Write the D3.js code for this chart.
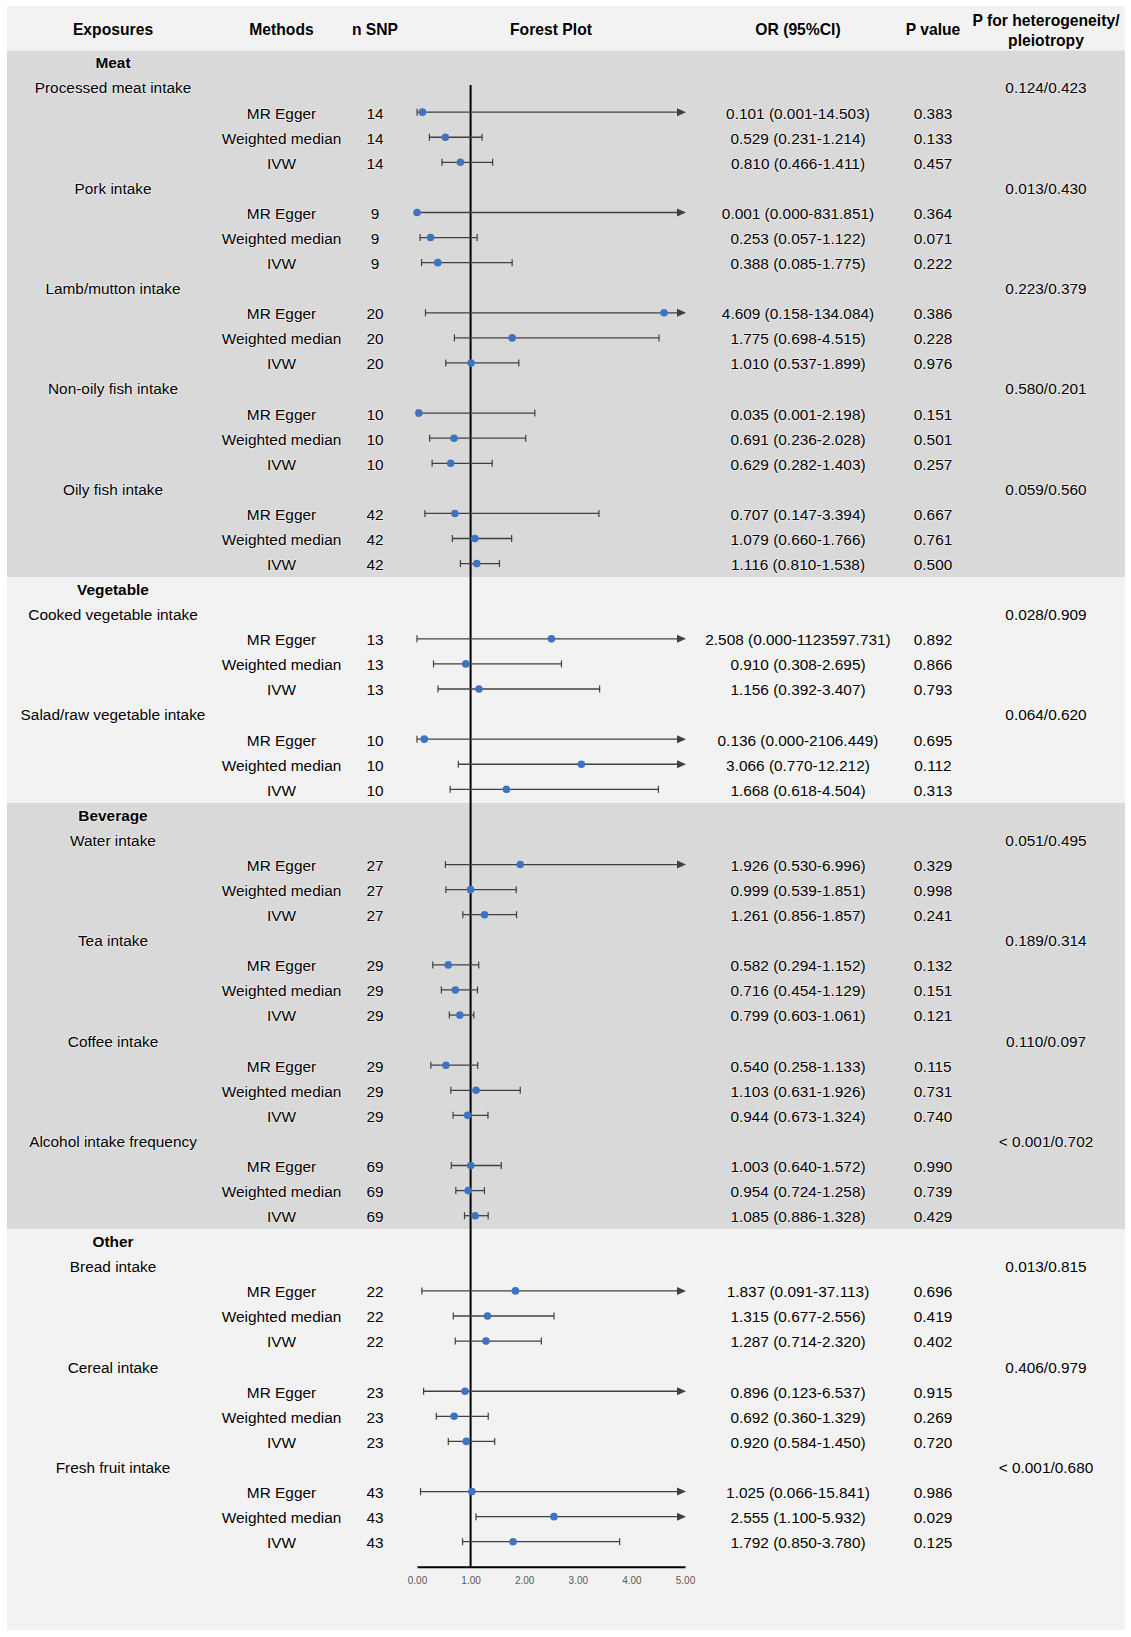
<!DOCTYPE html>
<html>
<head>
<meta charset="utf-8">
<script src="https://cdn.jsdelivr.net/npm/d3@7/dist/d3.min.js"></script>
<style>
  html, body { margin: 0; padding: 0; background: #ffffff; }
  svg { display: block; }
  .t { font-family: "Liberation Sans", Arial, sans-serif; font-size: 15.4px; fill: #000;
       paint-order: stroke; stroke: #ffffff; stroke-width: 1.4px; stroke-opacity: 0.55; stroke-linejoin: round; }
  .b { font-weight: bold; }
  .hd { font-size: 15.7px; }
</style>
</head>
<body>
<svg id="chart" width="1131" height="1637"></svg>
<script>
// ---------------- data ----------------
const headers = ["Exposures", "Methods", "n SNP", "Forest Plot", "OR (95%CI)", "P value"];
const hetHeader = ["P for heterogeneity/", "pleiotropy"];

const categories = ["Meat", "Vegetable", "Beverage", "Other"];

const exposures = [
  "Processed meat intake", "Pork intake", "Lamb/mutton intake", "Non-oily fish intake", "Oily fish intake",
  "Cooked vegetable intake", "Salad/raw vegetable intake",
  "Water intake", "Tea intake", "Coffee intake", "Alcohol intake frequency",
  "Bread intake", "Cereal intake", "Fresh fruit intake"
];
const exposureCategory = [0, 0, 0, 0, 0, 1, 1, 2, 2, 2, 2, 3, 3, 3];
const nSNP = [14, 9, 20, 10, 42, 13, 10, 27, 29, 29, 69, 22, 23, 43];
const heterogeneity = [
  "0.124/0.423", "0.013/0.430", "0.223/0.379", "0.580/0.201", "0.059/0.560",
  "0.028/0.909", "0.064/0.620",
  "0.051/0.495", "0.189/0.314", "0.110/0.097", "< 0.001/0.702",
  "0.013/0.815", "0.406/0.979", "< 0.001/0.680"
];

const methods = ["MR Egger", "Weighted median", "IVW"];

// per exposure: [MR Egger, Weighted median, IVW]
const orValues = [
  [0.101, 0.529, 0.810], [0.001, 0.253, 0.388], [4.609, 1.775, 1.010], [0.035, 0.691, 0.629], [0.707, 1.079, 1.116],
  [2.508, 0.910, 1.156], [0.136, 3.066, 1.668],
  [1.926, 0.999, 1.261], [0.582, 0.716, 0.799], [0.540, 1.103, 0.944], [1.003, 0.954, 1.085],
  [1.837, 1.315, 1.287], [0.896, 0.692, 0.920], [1.025, 2.555, 1.792]
];
const ciLower = [
  [0.001, 0.231, 0.466], [0.000, 0.057, 0.085], [0.158, 0.698, 0.537], [0.001, 0.236, 0.282], [0.147, 0.660, 0.810],
  [0.000, 0.308, 0.392], [0.000, 0.770, 0.618],
  [0.530, 0.539, 0.856], [0.294, 0.454, 0.603], [0.258, 0.631, 0.673], [0.640, 0.724, 0.886],
  [0.091, 0.677, 0.714], [0.123, 0.360, 0.584], [0.066, 1.100, 0.850]
];
const ciUpper = [
  [14.503, 1.214, 1.411], [831.851, 1.122, 1.775], [134.084, 4.515, 1.899], [2.198, 2.028, 1.403], [3.394, 1.766, 1.538],
  [1123597.731, 2.695, 3.407], [2106.449, 12.212, 4.504],
  [6.996, 1.851, 1.857], [1.152, 1.129, 1.061], [1.133, 1.926, 1.324], [1.572, 1.258, 1.328],
  [37.113, 2.556, 2.320], [6.537, 1.329, 1.450], [15.841, 5.932, 3.780]
];
const pValues = [
  ["0.383", "0.133", "0.457"], ["0.364", "0.071", "0.222"], ["0.386", "0.228", "0.976"], ["0.151", "0.501", "0.257"], ["0.667", "0.761", "0.500"],
  ["0.892", "0.866", "0.793"], ["0.695", "0.112", "0.313"],
  ["0.329", "0.998", "0.241"], ["0.132", "0.151", "0.121"], ["0.115", "0.731", "0.740"], ["0.990", "0.739", "0.429"],
  ["0.696", "0.419", "0.402"], ["0.915", "0.269", "0.720"], ["0.986", "0.029", "0.125"]
];
const xTicks = [0, 1, 2, 3, 4, 5];
const bandColors = ["#d9d9d9", "#f2f2f2"];

// ---------------- layout ----------------
const svg = d3.select("#chart");
const W = 1131, H = 1637;
const panelL = 7, panelR = 1125, panelT = 6, panelB = 1630, headerB = 50.5;
const colX = { exp: 113, method: 281.5, n: 375, forest: 551, or: 798, p: 933, het: 1046 };

// build rows
const rows = [];
categories.forEach((cat, ci) => {
  rows.push({ type: "cat", label: cat, cat: ci });
  exposures.forEach((ex, ei) => {
    if (exposureCategory[ei] !== ci) return;
    rows.push({ type: "exp", label: ex, het: heterogeneity[ei], cat: ci });
    methods.forEach((m, mi) => {
      rows.push({ type: "m", method: m, n: nSNP[ei], or: orValues[ei][mi],
        lo: ciLower[ei][mi], hi: ciUpper[ei][mi], p: pValues[ei][mi], cat: ci });
    });
  });
});
rows.forEach((r, i) => r.idx = i + 1);
const nRows = rows.length;

const y = d3.scaleLinear().domain([1, nRows + 1]).range([62, 62 + nRows * 25.08]);
const x = d3.scaleLinear().domain([0, 5]).range([417, 685]);
const fmt = d3.format(".3f");

// background
svg.append("rect").attr("x", 0).attr("y", 0).attr("width", W).attr("height", H).attr("fill", "#ffffff");
svg.append("rect").attr("x", panelL).attr("y", panelT).attr("width", panelR - panelL).attr("height", headerB - panelT).attr("fill", "#f2f2f2");

categories.forEach((cat, ci) => {
  const catRows = rows.filter(r => r.cat === ci);
  const first = catRows[0].idx, last = catRows[catRows.length - 1].idx;
  const top = ci === 0 ? headerB : y(first) - 11.5;
  const bottom = ci === categories.length - 1 ? panelB : y(last + 1) - 11.5;
  svg.append("rect").attr("x", panelL).attr("y", top).attr("width", panelR - panelL)
    .attr("height", bottom - top).attr("fill", bandColors[ci % 2]);
});

// header
const hx = [colX.exp, colX.method, colX.n, colX.forest, colX.or, colX.p];
headers.forEach((h, i) => {
  svg.append("text").attr("class", "t b hd").attr("x", hx[i]).attr("y", 34.8)
    .attr("text-anchor", "middle").text(h);
});
hetHeader.forEach((h, i) => {
  svg.append("text").attr("class", "t b hd").attr("x", colX.het).attr("y", 25.8 + i * 20)
    .attr("text-anchor", "middle").text(h);
});

// text rows
const base = 6.4;
rows.forEach(r => {
  const yy = y(r.idx) + base;
  if (r.type === "cat") {
    svg.append("text").attr("class", "t b").attr("x", colX.exp).attr("y", yy).attr("text-anchor", "middle").text(r.label);
  } else if (r.type === "exp") {
    svg.append("text").attr("class", "t").attr("x", colX.exp).attr("y", yy).attr("text-anchor", "middle").text(r.label);
    svg.append("text").attr("class", "t").attr("x", colX.het).attr("y", yy).attr("text-anchor", "middle").text(r.het);
  } else {
    svg.append("text").attr("class", "t").attr("x", colX.method).attr("y", yy).attr("text-anchor", "middle").text(r.method);
    svg.append("text").attr("class", "t").attr("x", colX.n).attr("y", yy).attr("text-anchor", "middle").text(r.n);
    svg.append("text").attr("class", "t").attr("x", colX.or).attr("y", yy).attr("text-anchor", "middle")
      .text(`${fmt(r.or)} (${fmt(r.lo)}-${fmt(r.hi)})`);
    svg.append("text").attr("class", "t").attr("x", colX.p).attr("y", yy).attr("text-anchor", "middle").text(r.p);
  }
});

// reference line at OR = 1
svg.append("line").attr("x1", x(1)).attr("x2", x(1)).attr("y1", y(2) - 2).attr("y2", y(nRows + 1))
  .attr("stroke", "#000").attr("stroke-width", 2);

// axis
const axisG = svg.append("g").attr("transform", `translate(0,${y(nRows + 1)})`)
  .call(d3.axisBottom(x).tickValues(xTicks).tickFormat(d3.format(".2f")).tickSize(0).tickSizeOuter(0).tickPadding(10));
axisG.select(".domain").attr("stroke", "#000").attr("stroke-width", 2);
axisG.selectAll(".tick text").attr("font-family", "'Liberation Sans', Arial, sans-serif")
  .attr("font-size", 10).attr("fill", "#595959");

// CI lines
const lineColor = "#404040";
const mRows = rows.filter(r => r.type === "m");
const g = svg.append("g");
mRows.forEach(r => {
  const yy = y(r.idx);
  const clipped = r.hi > 5;
  const x0 = x(Math.max(0, r.lo)), x1 = clipped ? x(5) + 1 : x(r.hi);
  g.append("line").attr("x1", x0).attr("x2", clipped ? x1 - 4 : x1).attr("y1", yy).attr("y2", yy)
    .attr("stroke", lineColor).attr("stroke-width", 1.3);
  g.append("line").attr("x1", x0).attr("x2", x0).attr("y1", yy - 3.5).attr("y2", yy + 3.5)
    .attr("stroke", lineColor).attr("stroke-width", 1.2);
  if (clipped) {
    g.append("path").attr("d", `M${x1},${yy} L${x1 - 9},${yy - 4} L${x1 - 9},${yy + 4} Z`).attr("fill", lineColor);
  } else {
    g.append("line").attr("x1", x1).attr("x2", x1).attr("y1", yy - 3.5).attr("y2", yy + 3.5)
      .attr("stroke", lineColor).attr("stroke-width", 1.2);
  }
});
g.selectAll("circle.pt").data(mRows).enter().append("circle").attr("class", "pt")
  .attr("cx", d => x(d.or)).attr("cy", d => y(d.idx)).attr("r", 3.8).attr("fill", "#3d73c1");
</script>
</body>
</html>
